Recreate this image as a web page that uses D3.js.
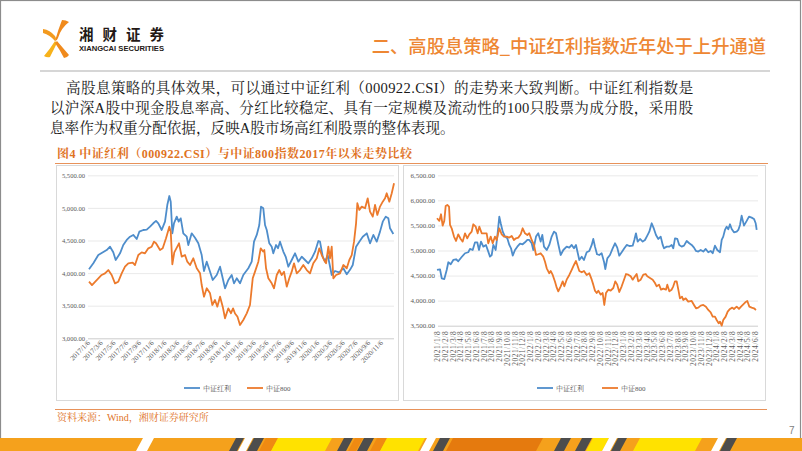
<!DOCTYPE html>
<html><head><meta charset="utf-8">
<script src="https://cdn.jsdelivr.net/npm/d3@7"></script>
<style>body{margin:0;background:#fff}svg{display:block}</style>
</head><body>
<svg id="c" width="802" height="451"></svg>
<script>
// ---------- DATA ----------
const seriesNames = ["中证红利", "中证800"];
// left chart: x = months since 2017/1/6
const leftTickLabels = ["2017/1/6","2017/3/6","2017/5/6","2017/7/6","2017/9/6","2017/11/6","2018/1/6","2018/3/6","2018/5/6","2018/7/6","2018/9/6","2018/11/6","2019/1/6","2019/3/6","2019/5/6","2019/7/6","2019/9/6","2019/11/6","2020/1/6","2020/3/6","2020/5/6","2020/7/6","2020/9/6","2020/11/6"];
const leftYTicks = [3000, 3500, 4000, 4500, 5000, 5500];
const leftDividend = [[0,4060],[0.68,4150],[1.46,4277],[2.78,4354],[3.30,4405],[3.81,4319],[4.19,4201],[4.87,4303],[5.38,4431],[5.92,4508],[6.44,4558],[6.95,4585],[7.49,4523],[7.90,4635],[8.52,4661],[9.06,4667],[9.58,4712],[10.09,4764],[10.52,4800],[10.88,4764],[11.41,4661],[11.93,4789],[12.29,5044],[12.61,5182],[12.83,5095],[13.08,4610],[13.34,4764],[13.77,4865],[14.08,4790],[14.40,4840],[14.80,4610],[15.34,4558],[15.59,4431],[16.12,4610],[16.64,4543],[17.16,4457],[17.69,4277],[18.05,4032],[18.48,4175],[19.00,4021],[19.42,3894],[20.05,3971],[20.57,4098],[20.99,3920],[21.35,3767],[21.87,3894],[22.40,3971],[22.76,3843],[23.19,3920],[23.70,3843],[24.22,3971],[25.01,4074],[25.54,4175],[25.90,4482],[26.33,4585],[26.73,4738],[27.00,5018],[27.36,4994],[27.63,4738],[27.90,4661],[28.30,4457],[28.68,4405],[28.93,4304],[29.36,4431],[29.67,4380],[29.98,4482],[30.50,4330],[30.88,4250],[31.29,4098],[31.82,4201],[32.34,4304],[32.86,4175],[33.39,4252],[33.91,4201],[34.43,4150],[34.96,4226],[35.48,4329],[36.00,4492],[36.26,4482],[36.69,4252],[37.05,4175],[37.47,4277],[38.10,3971],[38.62,4032],[39.25,4010],[39.92,4074],[40.46,3982],[40.97,4050],[41.40,4124],[41.92,4405],[42.43,4482],[42.97,4558],[43.60,4610],[44.11,4457],[44.63,4585],[45.16,4482],[45.68,4636],[46.11,4789],[46.58,4866],[46.99,4840],[47.25,4687],[47.77,4600]];
const leftCsi800 = [[0,3868],[0.47,3817],[1.21,3894],[1.99,3971],[2.51,3996],[3.03,4047],[3.56,3971],[4.08,3843],[4.60,3868],[5.13,3996],[5.65,4098],[6.17,4150],[6.86,4160],[7.22,4124],[7.74,4277],[8.27,4318],[8.79,4303],[9.31,4380],[9.84,4405],[10.20,4482],[10.52,4457],[11.15,4354],[11.57,4380],[12.09,4534],[12.61,4712],[12.83,4636],[13.08,4135],[13.39,4318],[13.86,4405],[14.13,4457],[14.55,4252],[15.07,4277],[15.43,4175],[15.86,4124],[16.37,4227],[16.91,4074],[17.43,3996],[17.69,3817],[18.05,3638],[18.48,3767],[19.00,3690],[19.36,3511],[19.78,3588],[20.14,3485],[20.57,3638],[20.99,3485],[21.35,3307],[21.87,3460],[22.29,3385],[22.61,3460],[22.92,3380],[23.31,3330],[23.70,3204],[24.22,3281],[24.76,3383],[25.27,3511],[25.70,3920],[26.06,4022],[26.58,4175],[26.95,4380],[27.32,4330],[27.52,4354],[27.79,4074],[28.15,3920],[28.68,3843],[29.04,3767],[29.47,3971],[29.87,4047],[30.25,3971],[30.61,4022],[31.04,3792],[31.44,3920],[31.82,4022],[32.18,4150],[32.61,3996],[33.12,4047],[33.64,4124],[34.18,4047],[34.69,3996],[35.21,4150],[35.75,4227],[36.15,4380],[36.53,4277],[36.89,4201],[37.21,4150],[37.57,4405],[37.83,4227],[38.10,4405],[38.35,3920],[38.78,3971],[39.40,3996],[39.92,4124],[40.46,4074],[40.86,4201],[41.24,4277],[41.60,4482],[41.92,4764],[42.12,5071],[42.43,4969],[42.81,5020],[43.33,4994],[43.75,5147],[44.11,4943],[44.54,4866],[44.90,5045],[45.26,4892],[45.68,5020],[46.11,5096],[46.47,5147],[46.73,5224],[47.14,5096],[47.52,5224],[47.88,5378]];
// right chart: x = months since 2021/1/8
const rightTickLabels = ["2021/1/8","2021/2/8","2021/3/8","2021/4/8","2021/5/8","2021/6/8","2021/7/8","2021/8/8","2021/9/8","2021/10/8","2021/11/8","2021/12/8","2022/1/8","2022/2/8","2022/3/8","2022/4/8","2022/5/8","2022/6/8","2022/7/8","2022/8/8","2022/9/8","2022/10/8","2022/11/8","2022/12/8","2023/1/8","2023/2/8","2023/3/8","2023/4/8","2023/5/8","2023/6/8","2023/7/8","2023/8/8","2023/9/8","2023/10/8","2023/11/8","2023/12/8","2024/1/8","2024/2/8","2024/3/8","2024/4/8","2024/5/8","2024/6/8"];
const rightYTicks = [3500, 4000, 4500, 5000, 5500, 6000, 6500];
const rightDividend = [[0,4612],[0.39,4625],[0.61,4446],[0.94,4430],[1.25,4612],[1.46,4765],[1.77,4725],[2.10,4811],[2.45,4825],[2.74,4785],[3.18,4870],[3.61,4945],[4.03,4965],[4.25,5031],[4.60,5010],[4.90,5164],[5.19,5164],[5.41,5011],[5.67,5177],[5.97,5077],[6.31,5111],[6.61,4978],[6.83,4877],[7.05,4910],[7.26,5111],[7.56,5010],[7.77,5277],[8.03,5676],[8.21,5543],[8.47,5376],[8.76,5277],[9.06,5243],[9.32,5111],[9.54,5044],[9.76,4897],[10.05,5010],[10.35,5077],[10.70,5137],[11.04,5124],[11.34,5164],[11.64,5210],[11.89,5210],[12.20,5144],[12.41,5010],[12.76,5277],[13.05,5344],[13.36,5177],[13.57,5310],[13.79,5077],[14.14,5010],[14.47,5111],[14.78,5277],[15.08,5376],[15.34,5343],[15.63,5124],[15.94,4911],[16.28,5010],[16.71,5077],[17.05,5057],[17.36,5111],[17.65,5044],[17.91,5111],[18.08,4991],[18.34,4811],[18.65,4877],[18.94,4811],[19.29,4965],[19.63,4991],[19.94,5111],[20.14,5230],[20.36,5077],[20.62,4925],[20.91,4910],[21.22,4945],[21.52,4777],[21.69,4631],[21.95,4844],[22.29,4910],[22.64,5044],[22.94,5144],[23.23,5057],[23.49,4897],[23.80,4965],[24.14,5044],[24.45,5111],[24.78,5090],[25.22,5097],[25.43,5210],[25.64,5343],[25.86,5177],[26.16,5230],[26.51,5177],[26.80,5210],[27.10,5297],[27.36,5376],[27.67,5543],[27.96,5430],[28.22,5310],[28.52,5230],[28.83,5277],[29.09,5111],[29.25,5044],[29.60,5077],[29.94,5077],[30.24,5111],[30.45,5044],[30.67,5243],[30.97,5230],[31.22,5111],[31.53,5077],[31.83,5097],[32.18,5190],[32.51,5144],[32.82,5111],[33.12,5057],[33.38,4991],[33.67,4978],[33.98,5010],[34.32,4978],[34.63,5031],[34.96,4965],[35.27,4991],[35.53,4945],[35.82,5097],[36.12,5010],[36.47,4965],[36.69,5210],[36.89,5277],[37.11,5410],[37.33,5476],[37.54,5423],[37.76,5523],[37.98,5430],[38.27,5363],[38.62,5376],[38.83,5410],[39.05,5510],[39.26,5696],[39.56,5497],[39.91,5590],[40.21,5676],[40.55,5656],[40.85,5630],[41.07,5543],[41.20,5410]];
const rightCsi800 = [[0,5644],[0.30,5590],[0.52,5723],[0.73,5497],[0.94,5590],[1.12,5889],[1.33,5909],[1.55,5876],[1.68,5510],[1.89,5443],[2.19,5277],[2.45,5190],[2.74,5323],[3.05,5230],[3.31,5177],[3.61,5343],[3.90,5243],[4.16,5323],[4.47,5376],[4.68,5523],[4.99,5476],[5.24,5343],[5.45,5476],[5.76,5343],[6.06,5343],[6.40,5343],[6.61,5144],[6.92,5277],[7.18,5144],[7.47,5277],[7.69,5210],[8.03,5443],[8.34,5323],[8.63,5277],[8.98,5277],[9.32,5257],[9.63,5290],[9.92,5210],[10.18,5243],[10.48,5257],[10.79,5323],[11.04,5443],[11.34,5343],[11.64,5310],[11.89,5343],[12.20,5210],[12.50,5111],[12.76,4911],[13.05,4925],[13.36,4945],[13.70,4877],[13.92,4777],[14.14,4645],[14.47,4545],[14.65,4592],[14.91,4512],[15.21,4378],[15.43,4258],[15.63,4186],[15.94,4286],[16.20,4385],[16.41,4286],[16.71,4418],[17.05,4512],[17.36,4612],[17.65,4711],[17.91,4791],[18.08,4711],[18.34,4592],[18.65,4565],[18.94,4592],[19.29,4512],[19.63,4545],[19.94,4418],[20.14,4319],[20.36,4199],[20.58,4152],[20.79,4199],[21.10,4119],[21.35,4152],[21.56,3913],[21.78,4152],[22.07,4219],[22.38,4199],[22.72,4252],[22.98,4385],[23.23,4319],[23.49,4172],[23.80,4286],[24.10,4418],[24.36,4531],[24.65,4518],[24.96,4485],[25.22,4418],[25.52,4485],[25.73,4531],[25.94,4385],[26.25,4418],[26.59,4518],[26.89,4531],[27.10,4485],[27.45,4452],[27.80,4418],[28.09,4352],[28.31,4286],[28.61,4319],[28.87,4219],[29.16,4239],[29.51,4219],[29.68,4319],[29.94,4186],[30.24,4219],[30.45,4286],[30.67,4385],[30.89,4385],[31.10,4219],[31.31,4046],[31.57,4079],[31.74,4013],[32.05,4046],[32.38,3980],[32.82,3993],[33.12,3913],[33.38,3847],[33.67,3860],[33.98,3900],[34.32,3913],[34.66,3880],[34.96,3814],[35.27,3767],[35.53,3681],[35.82,3681],[36.04,3614],[36.30,3548],[36.47,3581],[36.69,3501],[36.89,3614],[37.20,3681],[37.46,3780],[37.76,3834],[38.05,3860],[38.27,3834],[38.62,3880],[38.92,3834],[39.18,3880],[39.47,3927],[39.73,3967],[39.99,3993],[40.25,3880],[40.55,3860],[40.85,3847],[41.11,3814]];

// ---------- TEXT ----------
const titleText = "二、高股息策略_中证红利指数近年处于上升通道";
const paraLines = ["高股息策略的具体效果，可以通过中证红利（000922.CSI）的走势来大致判断。中证红利指数是",
  "以沪深A股中现金股息率高、分红比较稳定、具有一定规模及流动性的100只股票为成分股，采用股",
  "息率作为权重分配依据，反映A股市场高红利股票的整体表现。"];
const captionText = "图4  中证红利（000922.CSI）与中证800指数2017年以来走势比较";
const sourceText = "资料来源：Wind，湘财证券研究所";

// ---------- DRAW ----------
const svg = d3.select('#c');
const BLUE = "#4E8DCB", ORANGE = "#EC7A2C";
const SERIF = "'Liberation Serif','Noto Serif CJK SC','Noto Sans CJK SC',serif";
const SANS = "'Noto Sans CJK SC','Liberation Sans',sans-serif";

// frame
svg.append('rect').attr('x',0.5).attr('y',0.5).attr('width',800).attr('height',460)
  .attr('fill','none').attr('stroke','#8c8c8c').attr('stroke-width',1.2);

// logo
const logo = svg.append('g');
logo.append('path').attr('d','M62,20 Q66,20 69,22 Q61,28 58,38 Q57,41 55,41 Q58,30 62,20 Z').attr('fill','#F08A1C');
logo.append('path').attr('d','M43,29 Q50,30 55,36 Q57,39 55,41 Q50,35 43,33 Z').attr('fill','#F39A1E');
logo.append('path').attr('d','M55,41 Q50,49 44,56 Q47,58 50,57 Q54,49 57,43 Z').attr('fill','#F7B21B');
logo.append('path').attr('d','M57,41 Q63,48 69,55 Q67,58 64,58 Q60,50 55,43 Z').attr('fill','#F08A1C');
svg.append('text').attr('x',79).attr('y',40).attr('font-family',SANS).attr('font-weight',700)
  .attr('font-size',14.5).attr('fill','#231815').attr('textLength',85).attr('lengthAdjust','spacing').text('湘财证券');
svg.append('text').attr('x',79).attr('y',51).attr('font-family',"'Liberation Sans',sans-serif").attr('font-weight',700)
  .attr('font-size',7).attr('fill','#231815').attr('textLength',85).attr('lengthAdjust','spacingAndGlyphs').text('XIANGCAI SECURITIES');

// title
svg.append('text').attr('x',766).attr('y',53).attr('text-anchor','end').attr('font-family',SANS)
  .attr('font-size',18.3).attr('font-weight',500).attr('fill','#EE8733').text(titleText);
svg.append('line').attr('x1',40).attr('x2',770).attr('y1',71).attr('y2',71).attr('stroke','#C8C8C8').attr('stroke-width',1.5);

// paragraph
const paraPos = [[66,93,627],[50,113,643],[50,133,null]];
paraLines.forEach((t,i)=>{
  const e = svg.append('text').attr('x',paraPos[i][0]).attr('y',paraPos[i][1]).attr('font-family',SERIF)
    .attr('font-size',14.6).attr('fill','#1a1a1a').text(t);
  if (paraPos[i][2]) e.attr('textLength',paraPos[i][2]).attr('lengthAdjust','spacing');
});

// caption
svg.append('text').attr('x',57).attr('y',158).attr('font-family',SERIF).attr('font-weight',700)
  .attr('font-size',12).attr('fill','#E0731F').attr('textLength',355).attr('lengthAdjust','spacing').text(captionText);
svg.append('line').attr('x1',55).attr('x2',768).attr('y1',163.5).attr('y2',163.5).attr('stroke','#E8925A').attr('stroke-width',1.2);

// chart boxes
svg.append('rect').attr('x',56.5).attr('y',165.5).attr('width',342).attr('height',235).attr('fill','none').attr('stroke','#D9D9D9');
svg.append('rect').attr('x',403.5).attr('y',165.5).attr('width',362).attr('height',235).attr('fill','none').attr('stroke','#D9D9D9');

function drawChart(cfg){
  const g = svg.append('g');
  const x = d3.scaleLinear().domain(cfg.xDomain).range(cfg.xRange);
  const y = d3.scaleLinear().domain(cfg.yDomain).range(cfg.yRange);
  const ya = g.append('g').attr('transform',`translate(${cfg.gridX[0]},0)`)
    .call(d3.axisLeft(y).tickValues(cfg.yTicks).tickSize(-(cfg.gridX[1]-cfg.gridX[0])).tickPadding(3).tickFormat(d3.format(',.2f')));
  ya.select('.domain').remove();
  ya.selectAll('.tick line').attr('stroke',(d)=> d===cfg.yDomain[0] ? '#BFBFBF' : '#E3E3E3').attr('stroke-width',0.8);
  ya.selectAll('.tick text').attr('font-family',"'Liberation Serif',serif").attr('font-size',cfg.yFont).attr('fill','#595959');
  const xa = g.append('g').attr('transform',`translate(0,${cfg.yRange[0]})`)
    .call(d3.axisBottom(x).tickValues(cfg.tickLabels.map((d,i)=>i*cfg.tickStep)).tickSize(0).tickFormat((d,i)=>cfg.tickLabels[i]));
  xa.select('.domain').remove();
  xa.selectAll('.tick text').attr('font-family',"'Liberation Serif',serif").attr('font-size',cfg.xFont).attr('fill','#595959')
    .attr('text-anchor','end').attr('letter-spacing',cfg.xSpacing).attr('dy',null).attr('y',null)
    .attr('transform',cfg.xTransform);
  const line = d3.line().x(d=>x(d[0])).y(d=>y(d[1]));
  g.append('path').datum(cfg.s1).attr('d',line).attr('fill','none').attr('stroke',BLUE).attr('stroke-width',1.8).attr('stroke-linejoin','round');
  g.append('path').datum(cfg.s2).attr('d',line).attr('fill','none').attr('stroke',ORANGE).attr('stroke-width',1.8).attr('stroke-linejoin','round');
  const lg = g.append('g');
  cfg.legend.forEach((p,i)=>{
    lg.append('line').attr('x1',p[0]).attr('x2',p[0]+16).attr('y1',388).attr('y2',388).attr('stroke',i?ORANGE:BLUE).attr('stroke-width',1.8);
    lg.append('text').attr('x',p[0]+19).attr('y',390.5).attr('font-family',SERIF).attr('font-size',7).attr('fill','#595959').text(seriesNames[i]);
  });
}

drawChart({xDomain:[0,48], xRange:[89,394.8], yDomain:[3000,5500], yRange:[338.3,175.3], gridX:[88,394],
  yTicks:leftYTicks, yFont:6.6, tickLabels:leftTickLabels, tickStep:2, xFont:7, xSpacing:0,
  xTransform:'translate(1,5) rotate(-45)', s1:leftDividend, s2:leftCsi800, legend:[[184,0],[247,0]]});
drawChart({xDomain:[0,42], xRange:[437,762.9], yDomain:[3500,6500], yRange:[325.7,175.3], gridX:[438,758],
  yTicks:rightYTicks, yFont:7, tickLabels:rightTickLabels, tickStep:1, xFont:7.4, xSpacing:0.6,
  xTransform:'translate(2.5,5) rotate(-90)', s1:rightDividend, s2:rightCsi800, legend:[[537,0],[602,0]]});

// source line
svg.append('line').attr('x1',55).attr('x2',767).attr('y1',409.5).attr('y2',409.5).attr('stroke','#E8925A').attr('stroke-width',1.2);
svg.append('text').attr('x',57).attr('y',421).attr('font-family',SERIF).attr('font-size',10).attr('fill','#E0731F').text(sourceText);
svg.append('text').attr('x',789).attr('y',434).attr('font-family',"'Liberation Sans',sans-serif").attr('font-size',10).attr('fill','#808080').text('7');

// bottom stripe band
svg.append('rect').attr('x',0).attr('y',438).attr('width',802).attr('height',13).attr('fill','#F5A11C');
const stripes = [[136,11,'#fff'],[229,8,'#4D4D4D'],[238,8,'#fff'],[247,10,'#4D4D4D'],[259,12,'#EF8A12'],[271,54,'#FFE200'],
  [337,9,'#4D4D4D'],[348,8,'#EF8A12'],[357,10,'#4D4D4D'],[370,10,'#EF8A12'],[380,38,'#FFE200'],[420,9,'#fff'],[433,10,'#4D4D4D'],
  [446,90,'#E57A0E'],[554,10,'#4D4D4D'],[575,10,'#4D4D4D'],[586,16,'#FFE200'],[602,8,'#fff'],[611,9,'#4D4D4D'],
  [633,62,'#FFE200'],[711,8,'#fff'],[720,10,'#4D4D4D']];
stripes.forEach(s=>{
  svg.append('path').attr('d',`M${s[0]},451 L${s[0]+7},438 L${s[0]+7+s[1]},438 L${s[0]+s[1]},451 Z`).attr('fill',s[2]);
});
</script>
</body></html>
